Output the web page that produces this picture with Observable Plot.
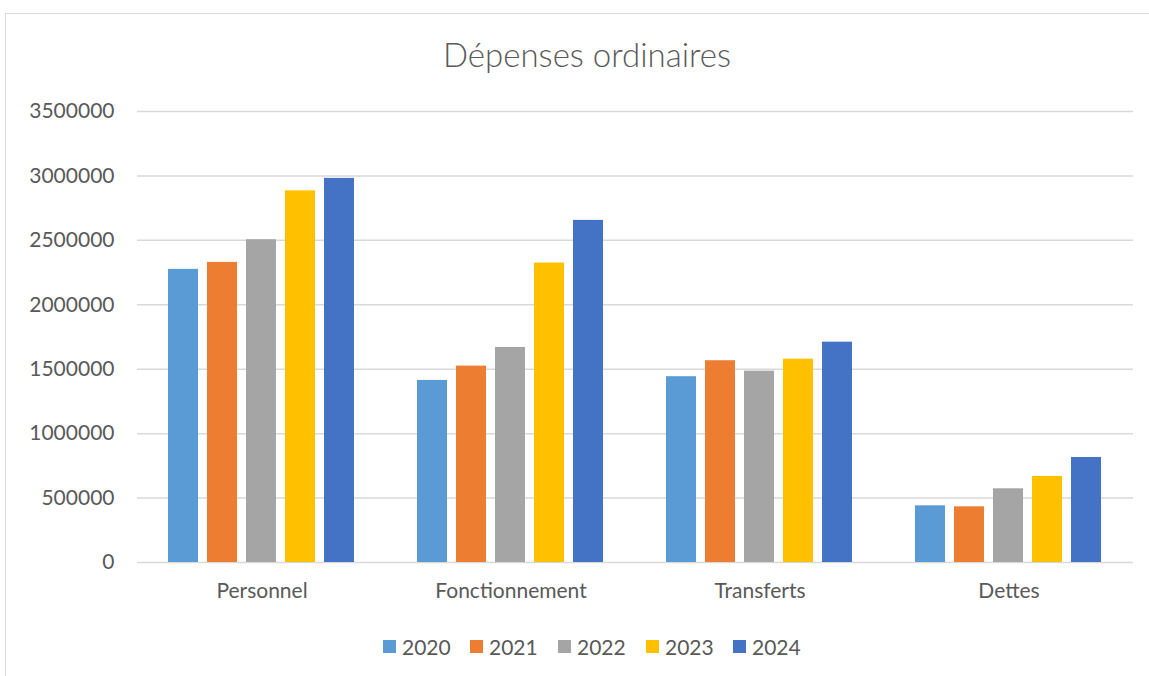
<!DOCTYPE html>
<html>
<head>
<meta charset="utf-8">
<script src="https://cdn.jsdelivr.net/npm/d3@7"></script>
<script src="https://cdn.jsdelivr.net/npm/@observablehq/plot@0.6"></script>
<style>
  html, body { margin: 0; padding: 0; background: #fff; }
  #wrap { position: relative; width: 1149px; height: 676px; overflow: hidden; font-family: Lato, "Open Sans", sans-serif; color: #595959; }
  #frame { position: absolute; left: 5px; top: 13px; width: 1160px; height: 700px; border: 1px solid #d9d9d9; box-sizing: border-box; }
  #title { position: absolute; left: 0; width: 1174px; top: 33px; text-align: center; font-size: 33px; line-height: 42px; color: #595959; font-weight: 300; }
  #chart { position: absolute; left: 0; top: 0; }
  #legend { position: absolute; left: 0; top: 633px; width: 1149px; height: 26px; }
  .item { position: absolute; top: 0; display: flex; align-items: center; height: 26px; font-size: 21px; color: #595959; }
  .sw { width: 13px; height: 13px; margin-right: 6px; }
</style>
</head>
<body>
<div id="wrap">
  <div id="frame"></div>
  <div id="title">Dépenses ordinaires</div>
  <div id="chart"></div>
  <div id="legend"></div>
</div>
<script>
const categories = ["Personnel", "Fonctionnement", "Transferts", "Dettes"];
const years = ["2020", "2021", "2022", "2023", "2024"];
const colors = ["#5B9BD5", "#ED7D31", "#A5A5A5", "#FFC000", "#4472C4"];
const values2020 = [2275000, 1413000, 1442000, 440000];
const values2021 = [2329000, 1524000, 1566000, 432000];
const values2022 = [2505000, 1669000, 1485000, 572000];
const values2023 = [2884000, 2324000, 1578000, 668000];
const values2024 = [2981000, 2655000, 1710000, 815000];
const yTicks = [0, 500000, 1000000, 1500000, 2000000, 2500000, 3000000, 3500000];

const series = [values2020, values2021, values2022, values2023, values2024];
const rows = [];
categories.forEach((c, i) => {
  years.forEach((y, j) => rows.push({category: c, year: y, value: series[j][i]}));
});

const chart = Plot.plot({
  width: 1149,
  height: 676,
  marginLeft: 135,
  marginRight: 15,
  marginTop: 111,
  marginBottom: 114,
  style: {fontFamily: "Lato, 'Open Sans', sans-serif", fontSize: "21px", color: "#595959", background: "transparent"},
  fx: {domain: categories, padding: 0, label: null},
  x: {domain: years, paddingInner: 0.23, paddingOuter: 0.78, axis: null},
  y: {domain: [0, 3500000], label: null},
  color: {domain: years, range: colors},
  marks: [
    Plot.gridY(yTicks, {stroke: "#d9d9d9", strokeOpacity: 1, strokeWidth: 1.5}),
    Plot.axisY({ticks: yTicks, tickSize: 0, tickPadding: 23, tickFormat: d3.format("d"), label: null, fill: "#595959"}),
    Plot.axisFx({anchor: "bottom", tickSize: 0, tickPadding: 21, label: null, fill: "#595959"}),
    Plot.barY(rows, {fx: "category", x: "year", y: "value", fill: "year"})
  ]
});
document.getElementById("chart").appendChild(chart);

const legend = document.getElementById("legend");
const lx = [383, 470, 558, 646, 733];
years.forEach((y, j) => {
  const it = document.createElement("div");
  it.className = "item";
  it.style.left = lx[j] + "px";
  it.innerHTML = `<div class="sw" style="background:${colors[j]}"></div><span>${y}</span>`;
  legend.appendChild(it);
});
</script>
</body>
</html>
